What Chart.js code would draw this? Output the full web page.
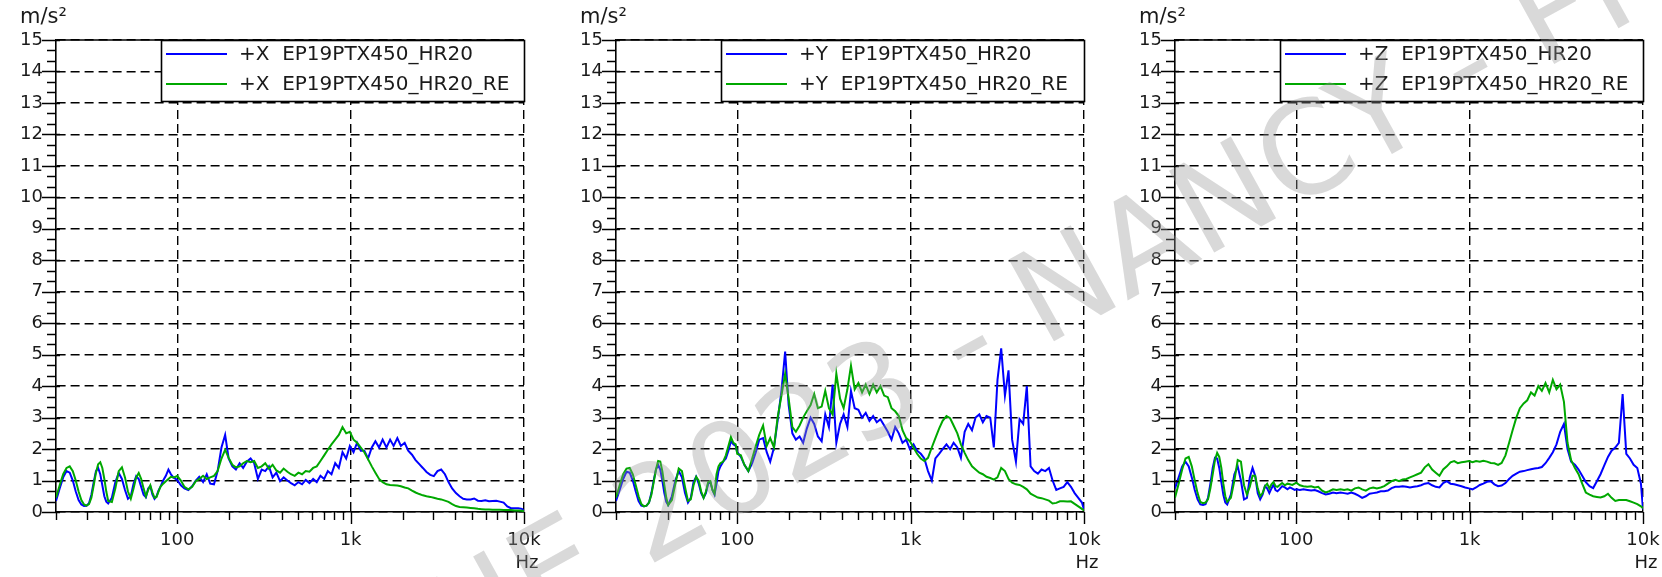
<!DOCTYPE html>
<html>
<head>
<meta charset="utf-8">
<script src="https://cdn.jsdelivr.net/npm/chart.js@4.4.1/dist/chart.umd.min.js"></script>
<style>
html, body { margin: 0; padding: 0; background: #fff; overflow: hidden; }
body { width: 1662px; height: 577px; position: relative; }
.panel { position: absolute; top: 0; width: 560px; height: 577px; }
#stamp { position: absolute; left: 0; top: 0; pointer-events: none; }
</style>
</head>
<body>
<div class="panel" style="left:0px"><canvas id="chartX"></canvas></div>
<div class="panel" style="left:560px"><canvas id="chartY"></canvas></div>
<div class="panel" style="left:1119px"><canvas id="chartZ"></canvas></div>
<svg id="stamp" width="1662" height="577">
  <text x="394" y="707" transform="rotate(-29 394 707)" font-family="'DejaVu Sans', Verdana, sans-serif" font-size="128" fill="rgba(150,150,150,0.36)">LNE 2023 - NANCY - FRANCE</text>
</svg>
<script>
// Frequencies (Hz), shared by all six curves
var freqs = [
  20, 21, 22, 23, 24, 25, 26, 27, 28, 29,
  30, 31, 32, 33, 34, 35, 36, 37, 38, 39,
  40, 42, 44, 46, 48, 50, 52, 54, 56, 58,
  60, 62, 64, 66, 68, 70, 72, 74, 76, 78,
  80, 83, 86, 89, 92, 95, 98, 100, 105, 110,
  116, 122, 128, 134, 141, 148, 155, 163, 171, 180,
  189, 198, 208, 218, 229, 240, 252, 265, 278, 292,
  307, 322, 338, 355, 373, 392, 411, 432, 453, 476,
  500, 525, 551, 579, 608, 638, 670, 704, 739, 776,
  815, 855, 898, 943, 990, 1040, 1090, 1145, 1200, 1260,
  1325, 1390, 1460, 1530, 1610, 1690, 1770, 1860, 1950, 2050,
  2150, 2260, 2370, 2490, 2610, 2740, 2880, 3020, 3170, 3330,
  3500, 3670, 3850, 4050, 4250, 4460, 4680, 4920, 5160, 5420,
  5690, 5980, 6280, 6590, 6920, 7260, 7630, 8010, 8410, 8830,
  9270, 9730, 10000
];

// +X axis (m/s²)
var xBlue = [
  0.35, 0.75, 1.1, 1.3, 1.25, 1.0, 0.65, 0.38, 0.24, 0.19,
  0.2, 0.28, 0.55, 0.95, 1.3, 1.4, 1.2, 0.85, 0.5, 0.33,
  0.27, 0.45, 0.95, 1.24, 1.05, 0.7, 0.42, 0.5, 0.9, 1.14,
  1.05, 0.8, 0.55, 0.47, 0.75, 0.82, 0.55, 0.42, 0.5, 0.68,
  0.8, 1.0, 1.15, 1.35, 1.2, 1.1, 1.05, 1.02, 0.85, 0.75,
  0.7, 0.82, 1.0, 1.12, 0.95, 1.2, 0.9, 0.88, 1.3, 2.05,
  2.45, 1.7, 1.45, 1.35, 1.55, 1.4, 1.6, 1.7, 1.55, 1.05,
  1.35, 1.3, 1.45, 1.1, 1.25, 0.98, 1.1, 1.0, 0.92, 0.85,
  0.95, 0.88, 1.02, 0.92, 1.05, 0.95, 1.15, 1.05, 1.3, 1.2,
  1.55, 1.4, 1.9, 1.7, 2.1, 1.9, 2.2, 1.95, 1.95, 1.7,
  2.05, 2.25, 2.05, 2.3, 2.05, 2.3, 2.1, 2.35, 2.1, 2.2,
  1.95, 1.82, 1.65, 1.52, 1.4, 1.27, 1.18, 1.14, 1.3, 1.35,
  1.2, 0.95, 0.75, 0.6, 0.5, 0.42, 0.4, 0.4, 0.43, 0.36,
  0.35, 0.37, 0.34, 0.35, 0.36, 0.33, 0.3, 0.18, 0.12, 0.12,
  0.12, 0.1, 0.04
];
var xGreen = [
  0.45, 0.85, 1.2, 1.4, 1.45, 1.3, 1.0, 0.65, 0.38, 0.24,
  0.2, 0.25, 0.45, 0.85, 1.25, 1.52, 1.58, 1.4, 1.05, 0.65,
  0.35, 0.32, 0.75, 1.3, 1.42, 1.1, 0.65, 0.42, 0.75, 1.1,
  1.24, 1.05, 0.75, 0.5, 0.7, 0.85, 0.62, 0.45, 0.48, 0.65,
  0.8, 0.9, 0.98, 1.05, 1.12, 1.1, 1.12, 1.15, 1.0, 0.8,
  0.72, 0.8, 0.98, 1.05, 1.15, 1.05, 1.1, 1.15, 1.3, 1.7,
  1.98, 1.72, 1.5, 1.42, 1.45, 1.55, 1.62, 1.58, 1.62, 1.4,
  1.45, 1.55, 1.38, 1.5, 1.32, 1.25, 1.38, 1.28, 1.2, 1.15,
  1.25, 1.2, 1.3, 1.28, 1.4, 1.45, 1.62, 1.8, 1.98, 2.15,
  2.3, 2.45, 2.7, 2.5, 2.55, 2.3, 2.2, 2.05, 1.9, 1.68,
  1.45, 1.25, 1.05, 0.95, 0.88, 0.86, 0.85, 0.84, 0.82, 0.78,
  0.75, 0.68, 0.62, 0.57, 0.53, 0.5, 0.48, 0.45, 0.42, 0.4,
  0.36, 0.32, 0.25, 0.19, 0.16, 0.15, 0.14, 0.13, 0.12, 0.1,
  0.09, 0.08, 0.08, 0.07, 0.07, 0.07, 0.06, 0.06, 0.06, 0.05,
  0.05, 0.04, 0.02
];

// +Y axis
var yBlue = [
  0.35, 0.7, 1.05, 1.28, 1.25, 1.0, 0.65, 0.35, 0.2, 0.18,
  0.2, 0.3, 0.6, 1.0, 1.35, 1.5, 1.35, 1.0, 0.6, 0.32,
  0.22, 0.5, 1.0, 1.3, 1.1, 0.6, 0.3, 0.45, 0.95, 1.12,
  0.9, 0.6, 0.45, 0.6, 0.9, 0.95, 0.7, 0.55, 0.9, 1.3,
  1.45, 1.6, 1.7, 1.95, 2.25, 2.15, 2.1, 1.9, 1.75, 1.5,
  1.3, 1.55, 1.9, 2.3, 2.35, 1.9, 1.6, 2.05, 2.9, 3.85,
  5.1, 3.4, 2.5, 2.3, 2.4, 2.2, 2.65, 3.0, 2.8, 2.4,
  2.25, 3.1, 2.7, 4.05, 2.2, 2.8, 3.1, 2.7, 3.85, 3.3,
  3.25, 3.0, 3.15, 2.9, 3.05, 2.85, 2.95, 2.75, 2.55, 2.3,
  2.7, 2.5, 2.2, 2.3, 2.0, 2.15, 1.95, 1.85, 1.7, 1.3,
  1.0, 1.7, 1.85, 2.0, 2.15, 2.0, 2.2, 2.05, 1.72, 2.55,
  2.8, 2.6, 3.0, 3.1, 2.85, 3.05, 3.0, 2.05, 4.2, 5.2,
  3.7, 4.5, 2.3, 1.6, 2.95, 2.8, 4.0, 1.45, 1.3, 1.22,
  1.35, 1.3, 1.4, 1.0, 0.7, 0.75, 0.8, 0.95, 0.8, 0.6,
  0.45, 0.3, 0.07
];
var yGreen = [
  0.45, 0.85, 1.2, 1.38, 1.4, 1.2, 0.85, 0.5, 0.25, 0.18,
  0.2, 0.3, 0.55, 0.95, 1.35, 1.62, 1.6, 1.3, 0.85, 0.45,
  0.22, 0.38, 0.9, 1.38, 1.3, 0.8, 0.35, 0.4, 0.85, 1.12,
  1.0, 0.65, 0.45, 0.65, 0.95, 0.98, 0.7, 0.58, 1.2, 1.45,
  1.55, 1.6, 1.8, 2.1, 2.38, 2.2, 2.15, 1.85, 1.8, 1.5,
  1.3, 1.7, 2.1, 2.45, 2.75, 2.1, 2.35, 2.05, 3.0, 3.7,
  4.4, 3.6, 2.7, 2.55, 2.75, 3.0, 3.2, 3.4, 3.75, 3.3,
  3.35, 3.85, 3.3, 3.1, 4.4, 3.6, 3.3, 3.9, 4.65, 3.9,
  4.1, 3.8, 4.05, 3.75, 4.05, 3.8, 4.0, 3.7, 3.65, 3.3,
  3.2, 3.05, 2.6, 2.35, 2.25, 2.05, 1.85, 1.7, 1.62, 1.72,
  2.05, 2.35, 2.65, 2.9, 3.05, 2.98, 2.75, 2.5, 2.15, 1.88,
  1.65, 1.45, 1.35, 1.25, 1.2, 1.12, 1.08, 1.03, 1.1, 1.4,
  1.3, 1.05, 0.93, 0.88, 0.86, 0.8, 0.72, 0.58, 0.52, 0.46,
  0.44, 0.4, 0.36, 0.27, 0.29, 0.34, 0.34, 0.33, 0.34, 0.26,
  0.18, 0.1, 0.05
];

// +Z axis
var zBlue = [
  0.75, 1.1, 1.45, 1.6, 1.45, 1.1, 0.7, 0.4, 0.24, 0.22,
  0.25, 0.45, 0.9, 1.4, 1.72, 1.7, 1.4, 0.95, 0.55, 0.3,
  0.24, 0.55, 1.2, 1.45, 1.0, 0.4, 0.45, 1.1, 1.4, 1.15,
  0.6, 0.4, 0.55, 0.82, 0.75, 0.6, 0.75, 0.87, 0.7, 0.66,
  0.72, 0.82, 0.78, 0.72, 0.78, 0.74, 0.7, 0.72, 0.7, 0.72,
  0.7, 0.68, 0.7, 0.66, 0.6, 0.56, 0.58, 0.62, 0.6, 0.62,
  0.6, 0.58, 0.62, 0.58, 0.52, 0.45, 0.5, 0.58, 0.6, 0.62,
  0.66, 0.66, 0.68, 0.76, 0.8, 0.8, 0.82, 0.8, 0.78, 0.8,
  0.82, 0.85, 0.9, 0.92, 0.85, 0.8, 0.78, 0.92, 0.98, 0.9,
  0.88, 0.85, 0.82, 0.78, 0.75, 0.72, 0.78, 0.86, 0.9, 0.96,
  0.98, 0.88, 0.82, 0.84, 0.92, 1.05, 1.15, 1.22, 1.28, 1.3,
  1.33, 1.36, 1.38, 1.4, 1.43, 1.55, 1.72, 1.9, 2.15, 2.55,
  2.8, 2.0, 1.6, 1.5, 1.35, 1.15, 0.95, 0.82, 0.76, 0.98,
  1.2, 1.48, 1.75, 1.95, 2.05, 2.2, 3.75, 1.85, 1.7, 1.5,
  1.4, 0.9, 0.08
];
var zGreen = [
  0.45, 0.9, 1.35, 1.7, 1.75, 1.45, 1.0, 0.6, 0.32, 0.28,
  0.3, 0.4, 0.75, 1.2, 1.65, 1.88, 1.75, 1.4, 0.9, 0.5,
  0.32, 0.45, 1.0, 1.65, 1.6, 0.85, 0.55, 0.8, 1.15, 1.15,
  0.75, 0.5, 0.6, 0.82, 0.9, 0.75, 0.88, 0.95, 0.82, 0.8,
  0.85, 0.92, 0.85, 0.9, 0.88, 0.86, 0.9, 0.93, 0.85, 0.82,
  0.8, 0.82, 0.78, 0.8, 0.68, 0.62, 0.66, 0.72, 0.7, 0.72,
  0.7, 0.72, 0.68, 0.75, 0.78, 0.72, 0.68, 0.75, 0.78, 0.75,
  0.78, 0.82, 0.9, 0.98, 1.02, 0.98, 1.03, 1.05, 1.1, 1.15,
  1.2, 1.25, 1.42, 1.52, 1.35, 1.25, 1.15, 1.35, 1.45, 1.58,
  1.62, 1.55, 1.58, 1.6, 1.62, 1.58, 1.62, 1.6, 1.63, 1.6,
  1.56, 1.55, 1.5, 1.56, 1.8, 2.2, 2.6, 3.0, 3.3, 3.45,
  3.55, 3.8, 3.7, 4.0, 3.85, 4.1, 3.8, 4.2, 3.9, 4.05,
  3.5, 2.2, 1.65, 1.4, 1.2, 0.9, 0.62, 0.55, 0.5, 0.48,
  0.46, 0.5, 0.58, 0.45, 0.35, 0.38, 0.38, 0.38, 0.34, 0.3,
  0.25, 0.18, 0.12
];

// Axis ticks
var xMajor = [100, 1000, 10000];
var xMajorLabels = ['100', '1k', '10k'];
var xMinor = [20, 30, 40, 50, 60, 70, 80, 90, 200, 300, 400, 500, 600, 700, 800, 900,
  2000, 3000, 4000, 5000, 6000, 7000, 8000, 9000];

var BLUE = '#0000ff';
var GREEN = '#00a800';
var FONT = "'DejaVu Sans', Verdana, sans-serif";
var TEXT = '#1a1a1a';

// Draws the things Chart.js has no option for: top border, tick marks, boxed legend, units
var decoPlugin = {
  id: 'deco',
  afterDraw: function (chart, args, opts) {
    var ctx = chart.ctx, a = chart.chartArea;
    var x = chart.scales.x, y = chart.scales.y;
    ctx.save();
    ctx.strokeStyle = '#000';
    ctx.lineWidth = 1.6;
    ctx.setLineDash([]);

    ctx.beginPath();
    ctx.moveTo(a.left, a.top);
    ctx.lineTo(a.right, a.top);
    ctx.stroke();

    ctx.lineWidth = 1.4;
    ctx.beginPath();
    for (var v = 0; v <= 15; v++) {
      var py = Math.round(y.getPixelForValue(v)) + 0.5;
      ctx.moveTo(a.left - 14, py);
      ctx.lineTo(a.left + 4, py);
      if (v < 15) {
        for (var k = 1; k < 3; k++) {
          var pm = Math.round(y.getPixelForValue(v + k / 3)) + 0.5;
          ctx.moveTo(a.left - 9, pm);
          ctx.lineTo(a.left, pm);
        }
      }
    }
    xMajor.forEach(function (f) {
      var px = Math.round(x.getPixelForValue(f)) + 0.5;
      ctx.moveTo(px, a.bottom);
      ctx.lineTo(px, a.bottom + 12);
    });
    xMinor.forEach(function (f) {
      var px = Math.round(x.getPixelForValue(f)) + 0.5;
      ctx.moveTo(px, a.bottom);
      ctx.lineTo(px, a.bottom + 8);
    });
    ctx.stroke();

    // legend box
    var bx = a.left + 105, by = a.top, bw = a.right - bx, bh = 61;
    ctx.fillStyle = '#fff';
    ctx.fillRect(bx, by, bw, bh);
    ctx.lineWidth = 1.6;
    ctx.strokeRect(bx + 0.5, by + 0.5, bw, bh);
    var cols = [BLUE, GREEN];
    ctx.font = '20px ' + FONT;
    ctx.textBaseline = 'middle';
    ctx.textAlign = 'left';
    for (var i = 0; i < 2; i++) {
      var ly = by + 14 + i * 30;
      ctx.strokeStyle = cols[i];
      ctx.lineWidth = 1.8;
      ctx.beginPath();
      ctx.moveTo(bx + 5, ly);
      ctx.lineTo(bx + 66, ly);
      ctx.stroke();
      ctx.fillStyle = TEXT;
      ctx.fillText(opts.names[i], bx + 78, ly + 1);
    }

    ctx.font = '21px ' + FONT;
    ctx.fillStyle = TEXT;
    ctx.fillText('m/s\u00b2', a.left - 36, 18);
    ctx.textAlign = 'center';
    ctx.font = '18px ' + FONT;
    ctx.fillText('Hz', a.right + 3, 563);
    ctx.restore();
  }
};

function series(vals) {
  return freqs.map(function (f, i) { return { x: f, y: vals[i] }; });
}

function makeChart(id, blue, green, names) {
  return new Chart(document.getElementById(id), {
    type: 'line',
    data: {
      datasets: [
        { label: names[0], data: series(blue), borderColor: BLUE, order: 1 },
        { label: names[1], data: series(green), borderColor: GREEN, order: 0 }
      ]
    },
    plugins: [decoPlugin],
    options: {
      responsive: true,
      maintainAspectRatio: false,
      animation: false,
      layout: { padding: { left: 0, right: 36, top: 40, bottom: 0 } },
      elements: {
        line: { borderWidth: 2, tension: 0 },
        point: { radius: 0 }
      },
      plugins: {
        legend: { display: false },
        tooltip: { enabled: false },
        deco: { names: names }
      },
      scales: {
        x: {
          type: 'logarithmic',
          min: 20,
          max: 10000,
          afterBuildTicks: function (s) {
            s.ticks = xMajor.map(function (v) { return { value: v }; });
          },
          afterFit: function (s) {
            s.height = 65;
            s.paddingLeft = 0;
            s.paddingRight = 0;
          },
          ticks: {
            autoSkip: false,
            maxRotation: 0,
            padding: 18,
            color: TEXT,
            font: { family: FONT, size: 18 },
            callback: function (v) { return xMajorLabels[xMajor.indexOf(v)]; }
          },
          grid: { color: '#000', lineWidth: 1.4, drawTicks: false },
          border: { display: true, color: '#000', width: 1.6, dash: [9, 5] }
        },
        y: {
          min: 0,
          max: 15,
          afterFit: function (s) { s.width = 56; },
          ticks: {
            stepSize: 1,
            padding: 13,
            color: TEXT,
            font: { family: FONT, size: 18 }
          },
          grid: { color: '#000', lineWidth: 1.4, drawTicks: false },
          border: { display: true, color: '#000', width: 1.6, dash: [9, 5] }
        }
      }
    }
  });
}

makeChart('chartX', xBlue, xGreen, ['+X  EP19PTX450_HR20', '+X  EP19PTX450_HR20_RE']);
makeChart('chartY', yBlue, yGreen, ['+Y  EP19PTX450_HR20', '+Y  EP19PTX450_HR20_RE']);
makeChart('chartZ', zBlue, zGreen, ['+Z  EP19PTX450_HR20', '+Z  EP19PTX450_HR20_RE']);
</script>
</body>
</html>
